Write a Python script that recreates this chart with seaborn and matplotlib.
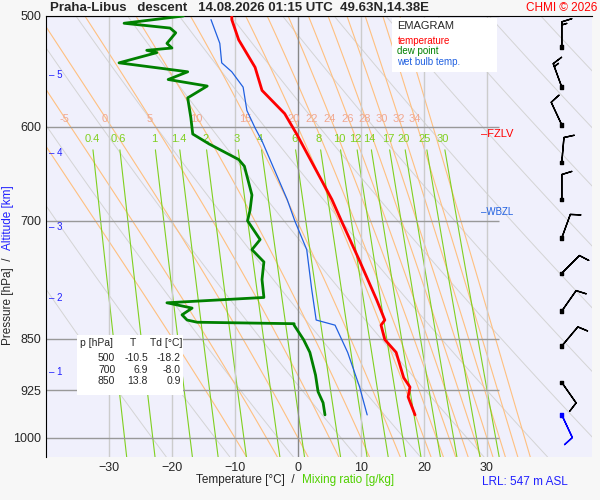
import numpy as np
import matplotlib
matplotlib.use("Agg")
import matplotlib.pyplot as plt
import seaborn as sns

# profiles (pressure hPa, value degC)
t_p = [500, 503, 520, 544, 565, 587, 607, 676, 700, 746, 797, 824, 831, 851, 869, 906, 920, 935, 963]
t_val = [-10.5, -10.5, -9.4, -6.8, -5.7, -2.1, -0.2, 5.4, 6.9, 9.7, 12.5, 13.8, 13.2, 13.8, 15.6, 16.8, 17.8, 17.5, 18.6]

td_p = [500, 506, 510, 514, 523, 527, 529, 531, 540, 548, 555, 561, 572, 591, 607, 617, 633, 640, 671, 688, 700,
        722, 734, 749, 771, 794, 801, 808, 817, 824, 827, 829, 831, 851, 869, 902, 927, 944, 963]
td_val = [-18.2, -27.6, -20.3, -19.4, -20.8, -20.0, -24.0, -22.4, -28.4, -17.5, -20.6, -14.4, -17.5, -17.0, -16.7,
          -14.1, -9.4, -8.5, -7.3, -7.6, -8.0, -6.0, -7.3, -5.4, -5.7, -5.4, -20.8, -16.8, -18.4, -17.6, -16.0,
          -0.6, -0.6, 0.9, 1.9, 2.8, 3.2, 4.0, 4.3]

tw_p = [503, 523, 540, 548, 562, 584, 601, 614, 676, 700, 734, 784, 824, 831, 869, 920, 963]
tw_val = [-13.8, -12.4, -12.1, -10.5, -8.7, -8.1, -6.8, -5.7, -1.7, -0.5, 1.4, 2.2, 2.9, 5.9, 7.9, 9.8, 11.0]

press_ticks = [500, 600, 700, 850, 925, 1000]
heights_km = [1, 2, 3, 4, 5]
heights_p = [898, 795, 707, 626, 551]
ws_labels = [-5, 0, 5, 10, 15, 20, 22, 24, 26, 28, 30, 32, 34]
mix_labels = [0.4, 0.6, 1, 1.4, 2, 3, 4, 6, 8, 10, 12, 14, 17, 20, 25, 30]
table_rows = [("500", "-10.5", "-18.2"), ("700", "6.9", "-8.0"), ("850", "13.8", "0.9")]
barb_p = [526, 562, 598, 636, 676, 720, 763, 812, 860, 913, 963]
barb_dir = [0, 340, 335, 5, 0, 20, 45, 35, 40, 145, 155]
barb_spd = [15, 15, 10, 10, 10, 10, 10, 10, 10, 10, 10]

sns.set_style("white")
plt.rcParams['font.family'] = ['Liberation Sans', 'DejaVu Sans']

fig = plt.figure(figsize=(6, 5), dpi=100, facecolor="#f7f7f7")
ax = fig.add_axes([46/600, 43/500, 546/600, 441/500])
ax.set_facecolor("#f0f0fc")
ax.set_yscale("log")
ax.set_xlim(-40, 46.7)
ax.set_ylim(1032, 500)

p = np.linspace(500, 1032, 120)
# dry adiabats
for th in range(250, 480, 10):
    ax.plot(th * (p / 1000) ** 0.2857 - 273.15, p, color="#d4d4d4", lw=0.7, zorder=1)


def moist(tw):
    """Pseudo-adiabat through tw at 1000 hPa."""
    out = {}
    for direction in (-1, 1):
        Tc = tw + 273.15
        pc = 1000.0
        pts = [(pc, Tc)]
        while 495 < pc < 1040:
            es = 6.112 * np.exp(17.67 * (Tc - 273.15) / (Tc - 29.65))
            rs = 0.622 * es / (pc - es)
            L = 2.5e6
            num = 287 * Tc + L * rs
            den = 1004 + L * L * rs * 0.622 / (287 * Tc * Tc)
            dp = direction * 5.0
            Tc = Tc + num / den / pc * dp
            pc = pc + dp
            pts.append((pc, Tc))
        out[direction] = pts
    arr = np.array(out[-1][::-1] + out[1][1:])
    return arr[:, 0], arr[:, 1] - 273.15


for tw in list(range(-10, 21, 5)) + list(range(22, 37, 2)):
    mp, mt = moist(tw)
    ax.plot(mt, mp, color="#ffc080", lw=0.8, zorder=1)
    if tw in ws_labels:
        i = np.argmin(abs(mp - 592))
        ax.text(mt[i], 592, str(tw), color="#f0a890", fontsize=8, ha="center", va="center", zorder=3)

# mixing ratio lines
pm = np.linspace(623, 1032, 50)
for w in mix_labels:
    e = w * pm / (622 + w)
    a = np.log(e / 6.112)
    ax.plot(243.5 * a / (17.67 - a), pm, color="#80d020", lw=0.8, zorder=1)
    e0 = w * 612 / (622 + w)
    a0 = np.log(e0 / 6.112)
    ax.text(243.5 * a0 / (17.67 - a0), 612, f"{w:g}", color="#80d020", fontsize=8, ha="center", va="center")

for x in range(-30, 31, 10):
    ax.axvline(x, color="#888888" if x == 0 else "#cccccc", lw=1, zorder=1)
ax.hlines(press_ticks, -40, 32, color="#999999", lw=1, zorder=2)

sns.lineplot(x=tw_val, y=tw_p, sort=False, estimator=None, orient="y", color="#2060e0", lw=0.9, ax=ax, zorder=4)
sns.lineplot(x=td_val, y=td_p, sort=False, estimator=None, orient="y", color="#008000", lw=2, ax=ax, zorder=5)
sns.lineplot(x=t_val, y=t_p, sort=False, estimator=None, orient="y", color="#ff0000", lw=2, ax=ax, zorder=5)

ax.set_yticks(press_ticks)
ax.set_yticklabels([str(v) for v in press_ticks])
ax.yaxis.set_minor_locator(matplotlib.ticker.NullLocator())
ax.set_xticks(range(-30, 31, 10))
ax.set_xlabel("")
ax.set_ylabel("")
ax.tick_params(length=0, labelsize=9)
for s in ["right", "bottom"]:
    ax.spines[s].set_visible(False)
for s in ["left", "top"]:
    ax.spines[s].set_color("black")

for h, hp in zip(heights_km, heights_p):
    ax.text(-39.6, hp, f"– {h}", color="#2020ff", fontsize=7, va="center")

ax.text(29, 607, "–FZLV", color="red", fontsize=8, va="center")
ax.text(29, 690, "–WBZL", color="#2060e0", fontsize=7, va="center")

# legend box
ax.add_patch(plt.Rectangle((15, 502), 16.6, 46, fc="white", ec="none", zorder=6))
ax.text(15.8, 508, "EMAGRAM", fontsize=8, va="center", zorder=7)
ax.text(15.8, 521, "temperature", color="red", fontsize=7, va="center", zorder=7)
ax.text(15.8, 530, "dew point", color="green", fontsize=7, va="center", zorder=7)
ax.text(15.8, 539, "wet bulb temp.", color="#2060e0", fontsize=7, va="center", zorder=7)

# table
ax.add_patch(plt.Rectangle((-35, 845), 16.8, 87, fc="white", ec="none", zorder=6))
ax.text(-34.6, 856, "p [hPa]", fontsize=7.5, va="center", zorder=7)
ax.text(-26.7, 856, "T", fontsize=7.5, va="center", zorder=7)
ax.text(-23.5, 856, "Td [°C]", fontsize=7.5, va="center", zorder=7)
for i, (a, b, c) in enumerate(table_rows):
    yy = [877, 894, 911][i]
    ax.text(-29.0, yy, a, fontsize=7.5, ha="right", va="center", zorder=7)
    ax.text(-23.8, yy, b, fontsize=7.5, ha="right", va="center", zorder=7)
    ax.text(-18.6, yy, c, fontsize=7.5, ha="right", va="center", zorder=7)

# wind barbs
rad = np.deg2rad(barb_dir)
u = -np.array(barb_spd) * np.sin(rad)
v = -np.array(barb_spd) * np.cos(rad)
cols = ["black"] * (len(barb_p) - 1) + ["blue"]
bx = [41.9] * len(barb_p)
ax.barbs(bx, barb_p, u, v, color=cols, length=6, lw=1, clip_on=False, zorder=6)
ax.scatter(bx, barb_p, c=cols, marker="s", s=6, zorder=7, clip_on=False)

fig.text(50/600, 1 - 8/500, "Praha-Libus   descent   14.08.2026 01:15 UTC  49.63N,14.38E",
         fontsize=9.5, weight="bold", va="center")
fig.text(597/600, 1 - 8/500, "CHMI © 2026", fontsize=8.5, color="red", ha="right", va="center")
fig.text(196/600, 1 - 480/500, "Temperature [°C]  /", fontsize=8.5, va="center")
fig.text(302/600, 1 - 480/500, "Mixing ratio [g/kg]", fontsize=8.5, color="#50d000", va="center")
fig.text(482/600, 1 - 482/500, "LRL: 547 m ASL", fontsize=8.5, color="#2020ff", va="center")
fig.text(8/600, 1 - 345/500, "Pressure [hPa]  /", fontsize=8.5, rotation=90, va="bottom", ha="center")
fig.text(8/600, 1 - 250/500, "Altitude [km]", fontsize=8.5, rotation=90, va="bottom", ha="center", color="#2020ff")

fig.savefig("out.png", dpi=100, facecolor=fig.get_facecolor())
